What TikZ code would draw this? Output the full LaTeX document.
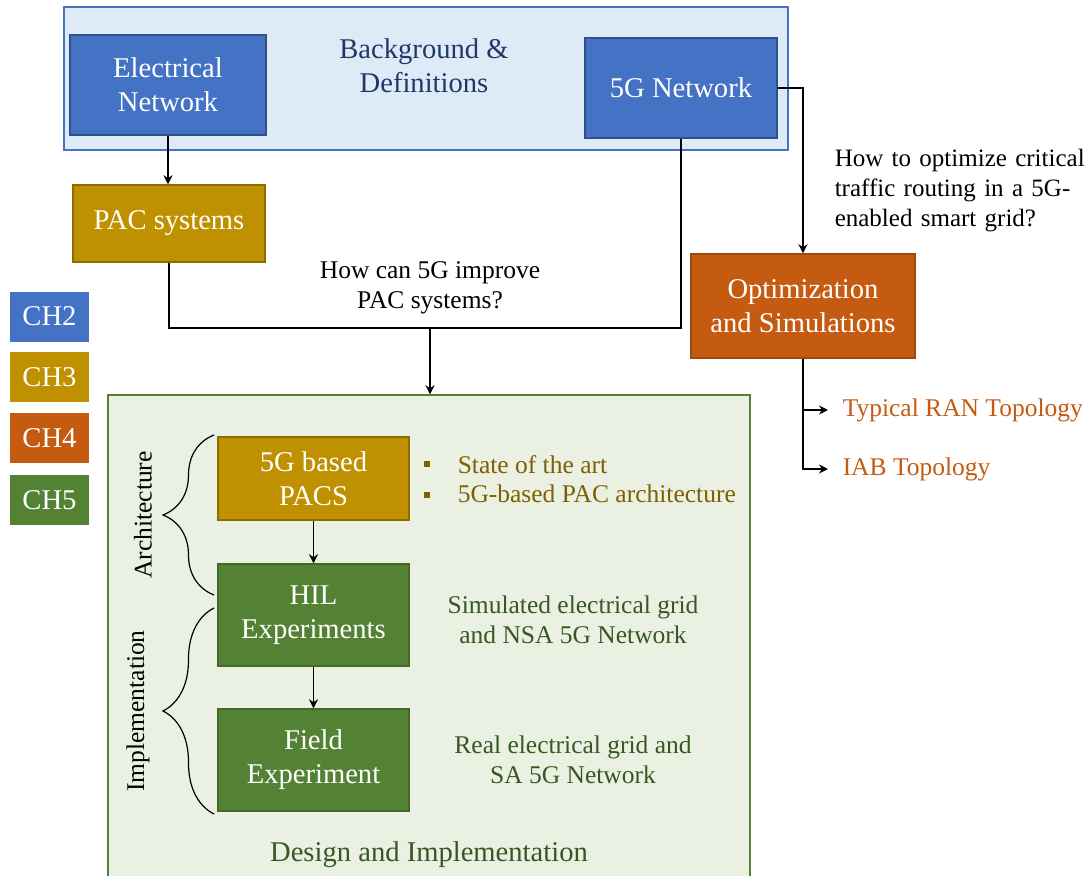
\documentclass[tikz,border=0pt]{standalone}
\usepackage{fontspec}
\setmainfont{Liberation Serif}
\usepackage{xcolor}
\usetikzlibrary{arrows.meta, decorations.pathreplacing}

\definecolor{chblue}{HTML}{4472C4}
\definecolor{chgold}{HTML}{BF9000}
\definecolor{choran}{HTML}{C55A11}
\definecolor{chgreen}{HTML}{548235}
\definecolor{bgblue}{HTML}{DEEBF7}
\definecolor{bggreen}{HTML}{EAF1E3}
\definecolor{navytxt}{HTML}{1F3864}
\definecolor{goldtxt}{HTML}{7F6000}
\definecolor{greentxt}{HTML}{385723}

\newcommand{\bigtxt}{\fontsize{14.3}{17}\selectfont}
\newcommand{\smalltxt}{\fontsize{12.75}{15}\selectfont}
\newcommand{\qtxt}{\fontsize{12.5}{15}\selectfont}
\newlength{\qwidth}\setlength{\qwidth}{124.5pt}

\begin{document}
\begin{tikzpicture}[x=0.5pt, y=-0.5pt, line width=0.75pt,
  >={Stealth[length=4.5pt, width=4.5pt]},
  box/.style={rectangle, draw, text=white, align=center, font=\bigtxt, inner sep=2pt},
  chbox/.style={rectangle, text=white, font=\bigtxt, minimum width=39.5pt, minimum height=25pt},
  bullet/.style={rectangle, fill=goldtxt, minimum size=3pt, inner sep=0pt},
  brc/.style={decorate, decoration={brace, amplitude=25.5pt}, line width=0.6pt}]
\useasboundingbox (0,0) rectangle (1088,875);

% panels
\node[draw=chblue, fill=bgblue, minimum width=362pt, minimum height=71.5pt] (bgbox) at (426,78.5) {};
\node[draw=chgreen, fill=bggreen, minimum width=321pt, minimum height=245pt] (design) at (429,640) {};

\begin{scope}[every node/.style={box}]
  \node[fill=chblue, draw=chblue!70!black, minimum width=98pt, minimum height=50pt] (elec) at (168,85) {Electrical\\Network};
  \node[fill=chblue, draw=chblue!70!black, minimum width=96pt, minimum height=50pt] (net5g) at (681,88) {5G Network};
  \node[fill=chgold, draw=chgold!75!black, minimum width=96pt, minimum height=38.5pt] (pac) at (169,223.5) {PAC systems};
  \node[fill=choran, draw=choran!80!black, minimum width=112pt, minimum height=52pt] (opt) at (803,306) {Optimization\\and Simulations};
  \node[fill=chgold, draw=chgold!75!black, minimum width=95.5pt, minimum height=41.5pt] (pacs) at (313.5,478.5) {5G based\\PACS};
  \node[fill=chgreen, draw=chgreen!80!black, minimum width=95.5pt, minimum height=51pt] (hil) at (313.5,615) {HIL\\Experiments};
  \node[fill=chgreen, draw=chgreen!80!black, minimum width=95.5pt, minimum height=51pt] (field) at (313.5,760) {Field\\Experiment};
\end{scope}

% chapter legend
\foreach \n/\c/\y in {2/chblue/316.5, 3/chgold/377, 4/choran/438, 5/chgreen/500}
  \node[chbox, fill=\c] (ch\n) at (49.5,\y) {CH\n};

% texts
\node[text=navytxt, font=\bigtxt, align=center] (bgtitle) at (424,66) {Background \&\\Definitions};
\node[font=\smalltxt, align=center] (q5g) at (430,288) {How can 5G improve\\PAC systems?};
\node[font=\qtxt, align=left, text width=\qwidth, inner sep=0pt, anchor=west] (qopt) at (834,191)
  {\makebox[\qwidth][s]{How to optimize critical}\\\makebox[\qwidth][s]{traffic routing in a 5G-}\\enabled smart grid?};
\node[font=\smalltxt, text=choran, anchor=west, inner xsep=7pt] (ran) at (828,410) {Typical RAN Topology};
\node[font=\smalltxt, text=choran, anchor=west, inner xsep=7pt] (iab) at (828,469) {IAB Topology};

\node[bullet] (b1) at (427,464) {};
\node[bullet] (b2) at (427,495) {};
\node[font=\smalltxt, text=goldtxt, anchor=base west, inner sep=0pt] (sota) at (457,473) {State of the art};
\node[font=\smalltxt, text=goldtxt, anchor=base west, inner sep=0pt] (pacarch) at (457,502) {5G-based PAC architecture};
\node[font=\smalltxt, text=greentxt, align=center] (simgrid) at (573,620) {Simulated electrical grid\\and NSA 5G Network};
\node[font=\smalltxt, text=greentxt, align=center] (realgrid) at (573,760) {Real electrical grid and\\SA 5G Network};
\node[font=\bigtxt, text=greentxt] (dtitle) at (429,855) {Design and Implementation};

% braces
\draw[brc] (214,595) -- (214,435);
\draw[brc] (214,814) -- (214,608);
\node[rotate=90, font=\smalltxt] (archlbl) at (143,515) {Architecture};
\node[rotate=90, font=\smalltxt] (impllbl) at (138,711) {Implementation};

% connectors
\coordinate (join) at (430,328);
\draw[->] (elec.south) -- (elec.south |- pac.north);
\draw (pac.south) |- (join) -| (net5g.south);
\draw[->] (join) -- (join |- design.north);
\draw[->] (net5g.east) -| (opt.north);
\draw[->] (opt.south) |- (ran.west);
\draw[->] (opt.south) |- (iab.west);
\path[->] (pacs) edge (hil)
          (hil) edge (field);

\end{tikzpicture}
\end{document}
